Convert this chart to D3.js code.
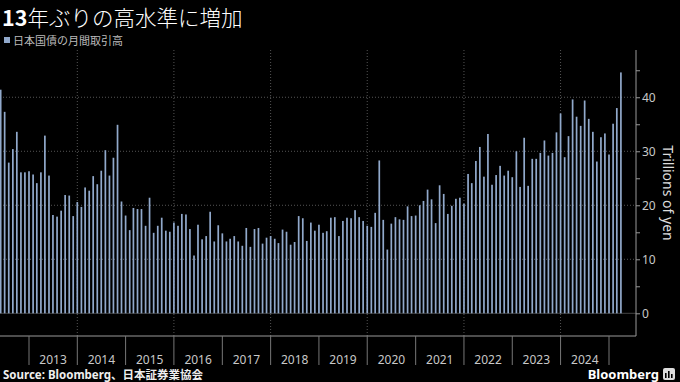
<!DOCTYPE html>
<html>
<head>
<meta charset="utf-8">
<script src="https://cdn.jsdelivr.net/npm/d3@7"></script>
<style>
  html, body { margin: 0; padding: 0; background: #000; }
  svg { display: block; font-family: 'Noto Sans', 'Noto Sans CJK JP', sans-serif; }
  .tick-label { fill: #c8c8c8; font-size: 12px; }
</style>
</head>
<body>
<script>
// monthly JGB trading volume, trillions of yen, May 2012 .. Mar 2025
const firstMonth = new Date(Date.UTC(2012, 4, 1));
const lastMonth = new Date(Date.UTC(2025, 2, 1));
const volumes = [
  41.4, 37.3, 27.9, 30.4, 33.6, 26.1, 26.1, 26.3, 25.7, 24.1,
  26.1, 32.9, 25.5, 18.2, 17.9, 19.0, 21.9, 21.8, 18.0, 20.6,
  19.7, 23.3, 22.7, 25.4, 23.9, 26.4, 30.2, 25.5, 28.8, 34.9,
  20.7, 18.1, 15.4, 19.5, 19.3, 19.3, 16.2, 21.4, 14.9, 16.2,
  17.7, 15.3, 15.1, 16.8, 16.2, 18.4, 18.3, 15.6, 10.7, 16.4,
  13.7, 14.3, 18.8, 13.3, 16.3, 14.8, 13.3, 13.8, 14.3, 13.3,
  12.5, 15.8, 12.3, 15.6, 15.8, 12.9, 14.0, 14.3, 13.8, 13.0,
  15.5, 15.1, 12.7, 13.2, 18.0, 17.6, 13.4, 16.8, 15.3, 16.4,
  14.9, 15.2, 17.7, 17.8, 14.3, 17.1, 17.7, 17.6, 19.1, 17.8,
  17.1, 16.2, 16.0, 18.6, 28.3, 17.3, 11.8, 16.6, 17.8, 17.4,
  17.3, 19.8, 18.0, 18.1, 20.0, 20.8, 22.9, 21.1, 16.7, 23.7,
  22.1, 18.4, 19.9, 21.2, 21.4, 20.3, 25.8, 24.1, 28.2, 30.8,
  25.3, 33.2, 23.8, 25.6, 27.3, 25.5, 26.4, 25.2, 30.0, 23.4,
  32.5, 23.6, 28.6, 28.6, 29.7, 32.0, 29.2, 29.7, 33.5, 37.0,
  28.9, 32.8, 39.6, 36.4, 34.7, 39.4, 36.0, 33.6, 28.1, 32.6,
  33.3, 29.4, 35.1, 38.0, 44.6
];
const years = [2013, 2014, 2015, 2016, 2017, 2018, 2019, 2020, 2021, 2022, 2023, 2024];
const yTicks = [0, 5, 10, 15, 20, 25, 30, 35, 40, 45];

const months = d3.utcMonth.range(firstMonth, d3.utcMonth.offset(lastMonth, 1));
const data = months.map((m, i) => ({ month: m, value: volumes[i] }));

const width = 680, height = 382;
const plotRight = 636, axisY = 336;

const svg = d3.select('body').append('svg')
  .attr('width', width)
  .attr('height', height);

const x = d3.scaleUtc()
  .domain([new Date(Date.UTC(2013, 0, 1)), new Date(Date.UTC(2025, 0, 1))])
  .range([29, 609]);

const y = d3.scaleLinear()
  .domain([0, 48.75])
  .range([313.3, 50]);

// title
const title = svg.append('text')
  .attr('x', 2)
  .attr('y', 25.5)
  .attr('fill', '#fff')
  .style('font-size', '21.5px')
  .style('font-family', "'Noto Sans CJK JP', sans-serif");
title.append('tspan').attr('font-weight', 'bold').text('13');
title.append('tspan').attr('font-weight', 300).text('年ぶりの高水準に増加');

// legend
svg.append('rect')
  .attr('x', 4).attr('y', 37)
  .attr('width', 6).attr('height', 6)
  .attr('fill', '#91a9cb');
svg.append('text')
  .attr('x', 13).attr('y', 45)
  .attr('fill', '#bbb')
  .style('font-size', '11px')
  .style('font-family', "'Noto Sans CJK JP', sans-serif")
  .text('日本国債の月間取引高');

// gridlines
svg.append('g')
  .selectAll('line')
  .data([10, 20, 30, 40])
  .enter()
  .append('line')
  .attr('x1', 0).attr('x2', plotRight)
  .attr('y1', d => y(d)).attr('y2', d => y(d))
  .attr('stroke', '#555')
  .attr('stroke-dasharray', '1,2');

svg.append('g')
  .selectAll('line')
  .data([2014, 2016, 2018, 2020, 2022, 2024])
  .enter()
  .append('line')
  .attr('x1', d => x(new Date(Date.UTC(d, 0, 1))))
  .attr('x2', d => x(new Date(Date.UTC(d, 0, 1))))
  .attr('y1', 50).attr('y2', axisY)
  .attr('stroke', '#555')
  .attr('stroke-dasharray', '1,2');

svg.append('line')
  .attr('x1', 0).attr('x2', plotRight)
  .attr('y1', y(0)).attr('y2', y(0))
  .attr('stroke', '#444');

// bars, dated at month end
const barW = 1.7;
svg.append('g')
  .selectAll('rect')
  .data(data)
  .enter()
  .append('rect')
  .attr('x', d => x(d3.utcMonth.offset(d.month, 1)) - barW / 2)
  .attr('y', d => y(d.value))
  .attr('width', barW)
  .attr('height', d => y(0) - y(d.value))
  .attr('fill', '#91a9cb');

// x axis
svg.append('line')
  .attr('x1', 0).attr('x2', plotRight)
  .attr('y1', axisY).attr('y2', axisY)
  .attr('stroke', '#999');

const yearTicks = years.concat([2025]);
svg.append('g')
  .selectAll('line')
  .data(yearTicks)
  .enter()
  .append('line')
  .attr('x1', d => x(new Date(Date.UTC(d, 0, 1))))
  .attr('x2', d => x(new Date(Date.UTC(d, 0, 1))))
  .attr('y1', axisY).attr('y2', 365)
  .attr('stroke', '#777');

svg.append('g')
  .selectAll('text')
  .data(years)
  .enter()
  .append('text')
  .attr('class', 'tick-label')
  .attr('x', d => x(new Date(Date.UTC(d, 6, 2))))
  .attr('y', 364)
  .attr('text-anchor', 'middle')
  .text(d => d);

// y axis on the right
svg.append('line')
  .attr('x1', plotRight).attr('x2', plotRight)
  .attr('y1', 50).attr('y2', axisY)
  .attr('stroke', '#999');

const yAxis = d3.axisRight(y)
  .tickValues(yTicks)
  .tickSize(4)
  .tickPadding(2)
  .tickFormat(d => d % 10 === 0 ? d : '');

const yg = svg.append('g')
  .attr('transform', 'translate(' + plotRight + ',0)')
  .call(yAxis);
yg.select('.domain').remove();
yg.selectAll('line').attr('stroke', '#999');
yg.selectAll('text')
  .attr('class', 'tick-label')
  .attr('fill', null)
  .style('font-family', "'Noto Sans', sans-serif");

svg.append('text')
  .attr('transform', 'translate(663,193) rotate(90)')
  .attr('text-anchor', 'middle')
  .attr('fill', '#ddd')
  .style('font-size', '14px')
  .text('Trillions of yen');

// footer
svg.append('text')
  .attr('x', 3).attr('y', 379)
  .attr('fill', '#eee')
  .attr('font-weight', 'bold')
  .style('font-size', '11.5px')
  .style('font-family', "'Noto Sans', 'Noto Sans CJK JP', sans-serif")
  .text('Source: Bloomberg、日本証券業協会');

svg.append('text')
  .attr('x', 659).attr('y', 379)
  .attr('text-anchor', 'end')
  .attr('fill', '#fff')
  .attr('font-weight', 'bold')
  .style('font-size', '13px')
  .text('Bloomberg');

const logo = svg.append('g').attr('transform', 'translate(663,368)');
logo.append('rect')
  .attr('width', 12).attr('height', 12).attr('rx', 2)
  .attr('fill', '#ddd');
logo.selectAll('.b')
  .data([[3, 5], [6, 3], [9, 6]])
  .enter()
  .append('rect')
  .attr('x', d => d[0] - 1).attr('y', d => d[1])
  .attr('width', 1.6).attr('height', d => 10 - d[1])
  .attr('fill', '#000');
</script>
</body>
</html>
